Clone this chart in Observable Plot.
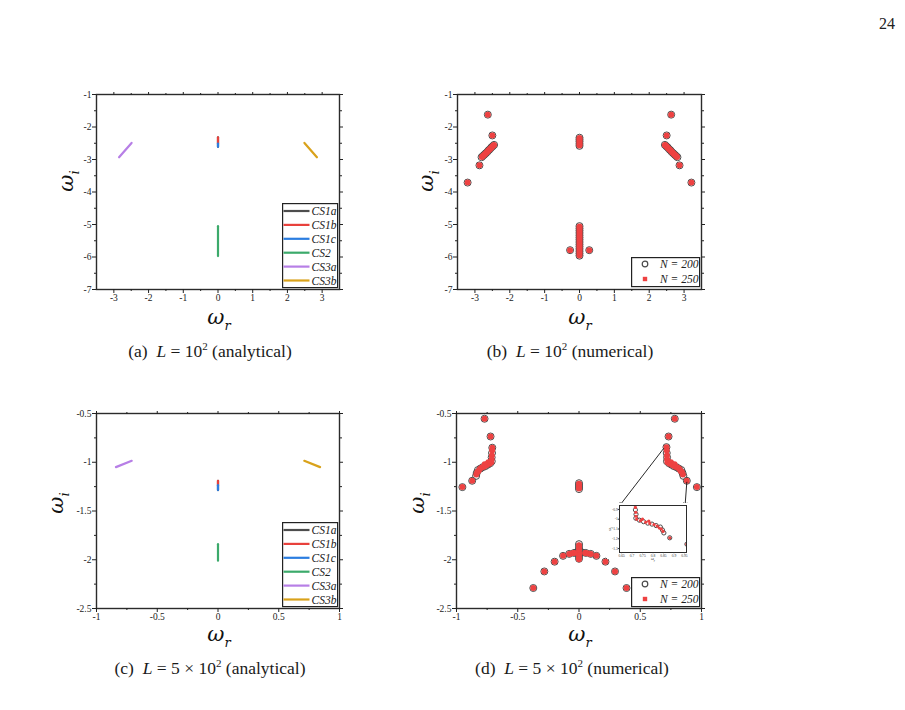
<!DOCTYPE html>
<html>
<head>
<meta charset="utf-8">
<script src="https://cdn.jsdelivr.net/npm/d3@7"></script>
<script src="https://cdn.jsdelivr.net/npm/@observablehq/plot@0.6"></script>
<style>
  body { margin: 0; background: #fff; }
  #page { position: relative; width: 905px; height: 710px; overflow: hidden; color: #222;
          font-family: "Liberation Serif", serif; }
  .caption { position: absolute; font-size: 17.5px; line-height: 18px; white-space: nowrap;
             transform: translateX(-50%); color: #1a1a1a; }
  .caption sup { font-size: 11px; line-height: 0; }
  .axlab { position: absolute; font-family: "DejaVu Serif", serif; font-size: 21px; line-height: 24px;
           white-space: nowrap; font-style: italic; color: #111; }
  .axlab .sub { font-size: 13px; position: relative; top: 6px; }
  .tiny { position: absolute; font-size: 4px; line-height: 4px; font-style: italic; white-space: nowrap; }
  svg { position: absolute; }
</style>
</head>
<body>
<div id="page"></div>
<script>
// ---- analytical branches, L = 10^2 : [omega_r, omega_i] end points ----
const branchNames  = ["CS1a", "CS1b", "CS1c", "CS2", "CS3a", "CS3b"];
const branchColors = ["#4d4d4d", "#e8413c", "#2b7de0", "#3caa6b", "#b77fe6", "#d9a21b"];
const aCS1a = [[0, -2.32], [0, -2.61]];
const aCS1b = [[0, -2.32], [0, -2.51]];
const aCS1c = [[0, -2.51], [0, -2.61]];
const aCS2  = [[0, -5.05], [0, -5.97]];
const aCS3a = [[-2.85, -2.93], [-2.49, -2.49]];
const aCS3b = [[2.49, -2.49], [2.85, -2.93]];

// ---- analytical branches, L = 5 x 10^2 ----
const cCS1a = [[0, -1.19], [0, -1.285]];
const cCS1b = [[0, -1.19], [0, -1.235]];
const cCS1c = [[0, -1.235], [0, -1.285]];
const cCS2  = [[0, -1.84], [0, -2.01]];
const cCS3a = [[-0.84, -1.05], [-0.71, -0.985]];
const cCS3b = [[0.71, -0.985], [0.84, -1.05]];

// ---- numerical spectrum, L = 10^2 ----
const numB200 = [
  [-3.21, -3.71], [-2.87, -3.18], [-2.50, -2.26], [-2.63, -1.62],
  [3.21, -3.71], [2.87, -3.18], [2.50, -2.26], [2.63, -1.62],
  [-2.45, -2.55], [-2.49, -2.59], [-2.53, -2.63], [-2.57, -2.68], [-2.61, -2.72],
  [-2.65, -2.77], [-2.69, -2.81], [-2.73, -2.85], [-2.77, -2.89], [-2.81, -2.93],
  [2.45, -2.55], [2.49, -2.59], [2.53, -2.63], [2.57, -2.68], [2.61, -2.72],
  [2.65, -2.77], [2.69, -2.81], [2.73, -2.85], [2.77, -2.89], [2.81, -2.93],
  [0, -2.33], [0, -2.39], [0, -2.45], [0, -2.52], [0, -2.58],
  [0, -5.05], [0, -5.12], [0, -5.19], [0, -5.26], [0, -5.33], [0, -5.40], [0, -5.47],
  [0, -5.54], [0, -5.61], [0, -5.68], [0, -5.75], [0, -5.82], [0, -5.89], [0, -5.96],
  [-0.27, -5.79], [0.28, -5.79]
];
const numB250 = [
  [-3.21, -3.71], [-2.87, -3.18], [-2.50, -2.26], [-2.63, -1.62],
  [3.21, -3.71], [2.87, -3.18], [2.50, -2.26], [2.63, -1.62],
  [-2.45, -2.55], [-2.47, -2.57], [-2.50, -2.60], [-2.53, -2.64], [-2.56, -2.67], [-2.59, -2.70],
  [-2.62, -2.73], [-2.65, -2.77], [-2.68, -2.80], [-2.71, -2.83], [-2.74, -2.86], [-2.77, -2.89], [-2.80, -2.92],
  [2.45, -2.55], [2.47, -2.57], [2.50, -2.60], [2.53, -2.64], [2.56, -2.67], [2.59, -2.70],
  [2.62, -2.73], [2.65, -2.77], [2.68, -2.80], [2.71, -2.83], [2.74, -2.86], [2.77, -2.89], [2.80, -2.92],
  [0, -2.34], [0, -2.38], [0, -2.43], [0, -2.48], [0, -2.53], [0, -2.57],
  [0, -5.06], [0, -5.11], [0, -5.17], [0, -5.23], [0, -5.29], [0, -5.35], [0, -5.41], [0, -5.47],
  [0, -5.53], [0, -5.59], [0, -5.65], [0, -5.71], [0, -5.77], [0, -5.83], [0, -5.89], [0, -5.95],
  [-0.27, -5.79], [0.28, -5.79]
];

// ---- numerical spectrum, L = 5 x 10^2 ----
const numD200 = [
  [-0.771, -0.554], [-0.722, -0.736], [-0.708, -0.851], [-0.710, -0.905], [-0.713, -0.95], [-0.712, -0.99],
  [-0.725, -1.01], [-0.745, -1.025], [-0.765, -1.04], [-0.785, -1.05], [-0.805, -1.065], [-0.825, -1.08],
  [-0.835, -1.11], [-0.84, -1.14], [-0.872, -1.19], [-0.952, -1.255],
  [0.782, -0.554], [0.731, -0.736], [0.714, -0.845], [0.716, -0.905], [0.719, -0.95], [0.718, -0.99],
  [0.735, -1.01], [0.755, -1.025], [0.775, -1.04], [0.795, -1.05], [0.815, -1.065], [0.835, -1.08],
  [0.845, -1.11], [0.852, -1.14], [0.88, -1.19], [0.962, -1.255],
  [0, -1.215], [0, -1.235], [0, -1.255], [0, -1.275],
  [0, -1.84], [0, -1.865], [0, -1.89], [0, -1.915], [0, -1.94], [0, -1.965], [0, -1.99],
  [-0.02, -1.925], [0.025, -1.925],
  [-0.373, -2.29], [-0.283, -2.12], [-0.199, -2.02], [-0.13, -1.96], [-0.08, -1.94], [-0.04, -1.93],
  [0.055, -1.93], [0.096, -1.94], [0.142, -1.96], [0.216, -2.02], [0.294, -2.12], [0.388, -2.29]
];
const numD250 = [
  [-0.771, -0.554], [-0.722, -0.736], [-0.708, -0.851], [-0.709, -0.88], [-0.711, -0.93], [-0.713, -0.97],
  [-0.716, -1.0], [-0.73, -1.015], [-0.74, -1.0], [-0.755, -1.03], [-0.77, -1.02], [-0.775, -1.045],
  [-0.795, -1.055], [-0.81, -1.07], [-0.82, -1.09], [-0.83, -1.10], [-0.838, -1.125], [-0.872, -1.19], [-0.952, -1.255],
  [0.782, -0.554], [0.731, -0.736], [0.714, -0.845], [0.716, -0.88], [0.718, -0.93], [0.719, -0.97],
  [0.722, -1.0], [0.74, -1.015], [0.75, -1.0], [0.765, -1.03], [0.78, -1.02], [0.785, -1.045],
  [0.805, -1.055], [0.82, -1.07], [0.83, -1.09], [0.84, -1.10], [0.848, -1.125], [0.88, -1.19], [0.962, -1.255],
  [0, -1.22], [0, -1.24], [0, -1.26], [0, -1.27],
  [0, -1.85], [0, -1.875], [0, -1.90], [0, -1.93], [0, -1.955], [0, -1.98], [0, -1.995],
  [-0.045, -1.93], [0.05, -1.93], [-0.065, -1.935], [0.075, -1.935],
  [-0.373, -2.29], [-0.283, -2.12], [-0.199, -2.02], [-0.13, -1.96], [-0.08, -1.94], [-0.04, -1.93],
  [0.055, -1.93], [0.096, -1.94], [0.142, -1.96], [0.216, -2.02], [0.294, -2.12], [0.388, -2.29]
];

// arrows from the right wing to the zoomed inset corners
const insetArrows = [
  {r1: 0.69, i1: -0.86, r2: 0.332, i2: -1.444},
  {r1: 0.88, i1: -1.205, r2: 0.866, i2: -1.444}
];

// ---- axis ticks ----
const ticksWideX  = [-3, -2, -1, 0, 1, 2, 3];
const minorWideX  = [-2.5, -1.5, -0.5, 0.5, 1.5, 2.5];
const ticksWideY  = [-7, -6, -5, -4, -3, -2, -1];
const minorWideY  = [-6.5, -5.5, -4.5, -3.5, -2.5, -1.5];
const ticksNarrowX = [-1, -0.5, 0, 0.5, 1];
const minorNarrowX = [-0.75, -0.25, 0.25, 0.75];
const ticksNarrowY = [-2.5, -2, -1.5, -1, -0.5];
const minorNarrowY = [-2.25, -1.75, -1.25, -0.75];
const insetTicksX = [0.65, 0.7, 0.75, 0.8, 0.85, 0.9, 0.95];
const insetTicksY = [-1.3, -1.2, -1.1, -1, -0.9];

const page = document.getElementById("page");
const fmt = d => String(d);
const blank = () => "";
const RED = "#ee4242", RING = "#4a4a4a";
const SERIF = "'Liberation Serif', 'Times New Roman', serif";

function place(node, left, top) {
  node.style.left = left + "px";
  node.style.top = top + "px";
  page.appendChild(node);
}

function framedAxes(tx, mx, ty, my) {
  return [
    Plot.frame({stroke: "#2b2b2b", strokeWidth: 1.4}),
    Plot.axisX({anchor: "bottom", ticks: tx, tickSize: 4, tickPadding: 1, tickFormat: fmt, label: null}),
    Plot.axisX({anchor: "bottom", ticks: mx, tickSize: 2, tickFormat: blank, label: null}),
    Plot.axisX({anchor: "top", ticks: tx, tickSize: 3, tickFormat: blank, label: null}),
    Plot.axisX({anchor: "top", ticks: mx, tickSize: 2, tickFormat: blank, label: null}),
    Plot.axisY({anchor: "left", ticks: ty, tickSize: 4, tickPadding: 1, tickFormat: fmt, label: null}),
    Plot.axisY({anchor: "left", ticks: my, tickSize: 2, tickFormat: blank, label: null}),
    Plot.axisY({anchor: "right", ticks: ty, tickSize: 3, tickFormat: blank, label: null}),
    Plot.axisY({anchor: "right", ticks: my, tickSize: 2, tickFormat: blank, label: null})
  ];
}

function panel({fx, fy, xDomain, yDomain, tx, mx, ty, my, marks}) {
  const ml = 34, mr = 8, mt = 8, mb = 18;
  const svg = Plot.plot({
    width: fx[1] - fx[0] + ml + mr,
    height: fy[1] - fy[0] + mt + mb,
    marginLeft: ml, marginRight: mr, marginTop: mt, marginBottom: mb,
    x: {domain: xDomain},
    y: {domain: yDomain},
    style: {fontFamily: SERIF, fontSize: "9.5px", color: "#222", background: "none", overflow: "visible"},
    marks: [...marks, ...framedAxes(tx, mx, ty, my)]
  });
  place(svg, fx[0] - ml, fy[0] - mt);
}

function branchLines(sets) {
  return sets.map((pts, k) => Plot.line(pts, {
    x: d => d[0], y: d => d[1], stroke: branchColors[k], strokeWidth: 2.2
  }));
}

function spectrum(d200, d250, r = 3.5, extra = {}) {
  return [
    Plot.dot(d200, {x: d => d[0], y: d => d[1], r, stroke: RING, strokeWidth: 1, fill: "none", ...extra}),
    Plot.dot(d250, {x: d => d[0], y: d => d[1], r: r - 0.5, fill: RED, stroke: "none", ...extra})
  ];
}

// (a) analytical, L = 10^2
panel({fx: [96, 339], fy: [94, 289], xDomain: [-3.5, 3.5], yDomain: [-7, -1],
  tx: ticksWideX, mx: minorWideX, ty: ticksWideY, my: minorWideY,
  marks: branchLines([aCS1a, aCS1b, aCS1c, aCS2, aCS3a, aCS3b])});

// (b) numerical, L = 10^2
panel({fx: [457, 701], fy: [94, 289], xDomain: [-3.5, 3.5], yDomain: [-7, -1],
  tx: ticksWideX, mx: minorWideX, ty: ticksWideY, my: minorWideY,
  marks: spectrum(numB200, numB250)});

// (c) analytical, L = 5 x 10^2
panel({fx: [96, 339], fy: [413, 608], xDomain: [-1, 1], yDomain: [-2.5, -0.5],
  tx: ticksNarrowX, mx: minorNarrowX, ty: ticksNarrowY, my: minorNarrowY,
  marks: branchLines([cCS1a, cCS1b, cCS1c, cCS2, cCS3a, cCS3b])});

// (d) numerical, L = 5 x 10^2, with arrows to the inset
panel({fx: [456, 701], fy: [413, 608], xDomain: [-1, 1], yDomain: [-2.5, -0.5],
  tx: ticksNarrowX, mx: minorNarrowX, ty: ticksNarrowY, my: minorNarrowY,
  marks: [
    ...spectrum(numD200, numD250),
    Plot.arrow(insetArrows, {x1: "r1", y1: "i1", x2: "r2", y2: "i2", stroke: "#111",
      strokeWidth: 0.9, headLength: 5})
  ]});

// inset: close-up of the right wing of (d)
{
  const fx = [619, 686], fy = [505, 552];
  const ml = 12, mr = 2, mt = 2, mb = 7;
  const svg = Plot.plot({
    width: fx[1] - fx[0] + ml + mr, height: fy[1] - fy[0] + mt + mb,
    marginLeft: ml, marginRight: mr, marginTop: mt, marginBottom: mb,
    x: {domain: [0.64, 0.96]}, y: {domain: [-1.34, -0.86]},
    style: {fontFamily: SERIF, fontSize: "3.6px", color: "#333", background: "#fff", overflow: "visible"},
    marks: [
      ...spectrum(numD200, numD250, 2.1, {clip: true}),
      Plot.frame({stroke: "#2b2b2b", strokeWidth: 1}),
      Plot.axisX({anchor: "bottom", ticks: insetTicksX, tickSize: 1.2, tickPadding: 0.5, tickFormat: d => d3.format(".2~f")(d), label: null}),
      Plot.axisY({anchor: "left", ticks: insetTicksY, tickSize: 1.2, tickPadding: 0.5, tickFormat: fmt, label: null})
    ]
  });
  place(svg, fx[0] - ml, fy[0] - mt);
}

// ---- axis titles ----
function xTitle(cx, cy) {
  const d = document.createElement("div");
  d.className = "axlab";
  d.innerHTML = 'ω<span class="sub">r</span>';
  d.style.transform = "translate(-50%, -50%)";
  place(d, cx, cy);
}
function yTitle(cx, cy) {
  const d = document.createElement("div");
  d.className = "axlab";
  d.innerHTML = 'ω<span class="sub">i</span>';
  d.style.transform = "translate(-50%, -50%) rotate(-90deg)";
  place(d, cx, cy);
}
xTitle(219, 318); yTitle(67, 181);
xTitle(580, 318); yTitle(427, 181);
xTitle(219, 635); yTitle(57, 503);
xTitle(580, 635); yTitle(418, 503);

// inset axis titles
{
  const a = document.createElement("div");
  a.className = "tiny"; a.innerHTML = "ω<sub style='font-size:3px'>r</sub>";
  place(a, 651, 557);
  const b = document.createElement("div");
  b.className = "tiny"; b.innerHTML = "ω<sub style='font-size:3px'>i</sub>";
  b.style.transform = "rotate(-90deg)";
  place(b, 609, 526);
}

// ---- legends ----
function branchLegend(left, top) {
  const svg = d3.create("svg").attr("width", 57).attr("height", 86);
  svg.append("rect").attr("x", 0.6).attr("y", 0.6).attr("width", 55).attr("height", 84)
    .attr("fill", "#fff").attr("stroke", "#222").attr("stroke-width", 1.2);
  branchNames.forEach((name, k) => {
    const y = 8 + k * 13.9;
    svg.append("line").attr("x1", 1.5).attr("x2", 27.5).attr("y1", y).attr("y2", y)
      .attr("stroke", branchColors[k]).attr("stroke-width", 2.2);
    svg.append("text").attr("x", 29.5).attr("y", y).attr("dy", "0.35em")
      .attr("font-family", SERIF).attr("font-style", "italic").attr("font-size", 11.5)
      .attr("fill", "#222").text(name);
  });
  place(svg.node(), left, top);
}
branchLegend(282, 203);
branchLegend(282, 522);

function sizeLegend(left, top) {
  const svg = d3.create("svg").attr("width", 70).attr("height", 31);
  svg.append("rect").attr("x", 0.6).attr("y", 0.6).attr("width", 68).attr("height", 29)
    .attr("fill", "#fff").attr("stroke", "#222").attr("stroke-width", 1.2);
  svg.append("circle").attr("cx", 14).attr("cy", 7).attr("r", 2.8)
    .attr("fill", "none").attr("stroke", RING).attr("stroke-width", 1.2);
  svg.append("rect").attr("x", 11.8).attr("y", 19.8).attr("width", 4.4).attr("height", 4.4).attr("fill", RED);
  [["N = 200", 7], ["N = 250", 22]].forEach(([t, y]) => {
    svg.append("text").attr("x", 29).attr("y", y).attr("dy", "0.35em")
      .attr("font-family", SERIF).attr("font-style", "italic").attr("font-size", 11.5)
      .attr("fill", "#222").text(t);
  });
  place(svg.node(), left, top);
}
sizeLegend(631, 257);
sizeLegend(631, 577);

// ---- sub-captions and page number ----
function caption(html, cx, top) {
  const d = document.createElement("div");
  d.className = "caption";
  d.innerHTML = html;
  place(d, cx, top);
}
caption("(a)&nbsp;&nbsp;<i>L</i> = 10<sup>2</sup> (analytical)", 210, 342);
caption("(b)&nbsp;&nbsp;<i>L</i> = 10<sup>2</sup> (numerical)", 570, 342);
caption("(c)&nbsp;&nbsp;<i>L</i> = 5 × 10<sup>2</sup> (analytical)", 210, 659);
caption("(d)&nbsp;&nbsp;<i>L</i> = 5 × 10<sup>2</sup> (numerical)", 572, 659);

{
  const n = document.createElement("div");
  n.textContent = "24";
  n.style.position = "absolute";
  n.style.fontSize = "16px";
  n.style.lineHeight = "16px";
  place(n, 879, 16);
}
</script>
</body>
</html>
